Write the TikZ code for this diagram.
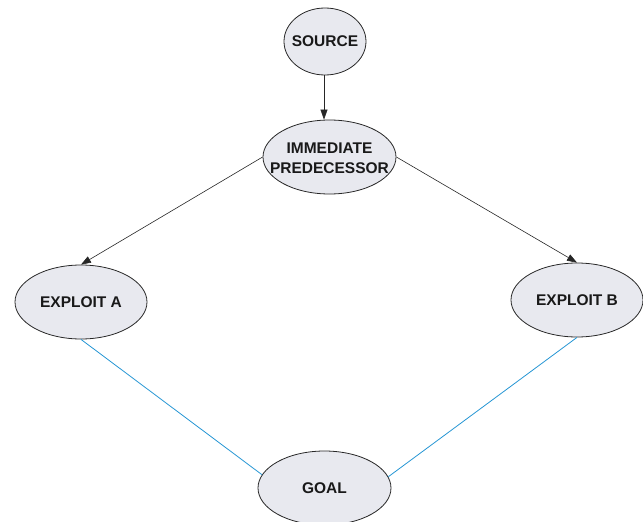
\documentclass[tikz,border=0pt]{standalone}
\usepackage{fontspec}
\setmainfont{Liberation Sans}
\usetikzlibrary{shapes.geometric,arrows.meta}
\definecolor{nodefill}{RGB}{232,233,239}
\definecolor{nodeline}{RGB}{40,40,40}
\definecolor{linkblue}{RGB}{38,150,212}
\tikzset{
  event/.style={ellipse, draw=nodeline, line width=0.8pt, fill=nodefill, inner sep=0pt},
  caption/.style={font=\fontsize{15.5}{20}\selectfont\bfseries, text=black!90, align=center, inner sep=0pt},
  flow/.style={draw=black!85, line width=0.6pt, -{Triangle[length=10pt,width=7pt]}},
  link/.style={draw=linkblue, line width=0.8pt}
}
\begin{document}
\begin{tikzpicture}[x=1pt,y=-1pt]
\useasboundingbox (0,0) rectangle (643,522);
% attack graph nodes
\node[event, minimum width=82pt, minimum height=67pt] (src) at (325,41.5) {};
\node[caption] (srct) at (src) {SOURCE};
\node[event, minimum width=133pt, minimum height=74pt] (ip) at (329.5,157) {};
\node[caption] (ipt) at (329.5,158) {IMMEDIATE\\PREDECESSOR};
\node[event, minimum width=132pt, minimum height=74pt] (ea) at (81,302) {};
\node[caption] (eat) at (ea) {EXPLOIT A};
\node[event, minimum width=132pt, minimum height=74pt] (eb) at (577,300) {};
\node[caption] (ebt) at (eb) {EXPLOIT B};
\node[event, minimum width=133pt, minimum height=74pt] (goal) at (324.5,488) {};
\node[caption] (goalt) at (goal) {GOAL};
% directed edges
\draw[flow] (src.south -| 324,0) -- (ip.north -| 324,0);
\draw[flow] (ip.west) -- (ea.north);
\draw[flow] (ip.east) -- (eb.north);
% links to the goal
\draw[link] (ea.south) -- (goal.168);
\draw[link] (eb.south) -- (goal.10);
\end{tikzpicture}
\end{document}
